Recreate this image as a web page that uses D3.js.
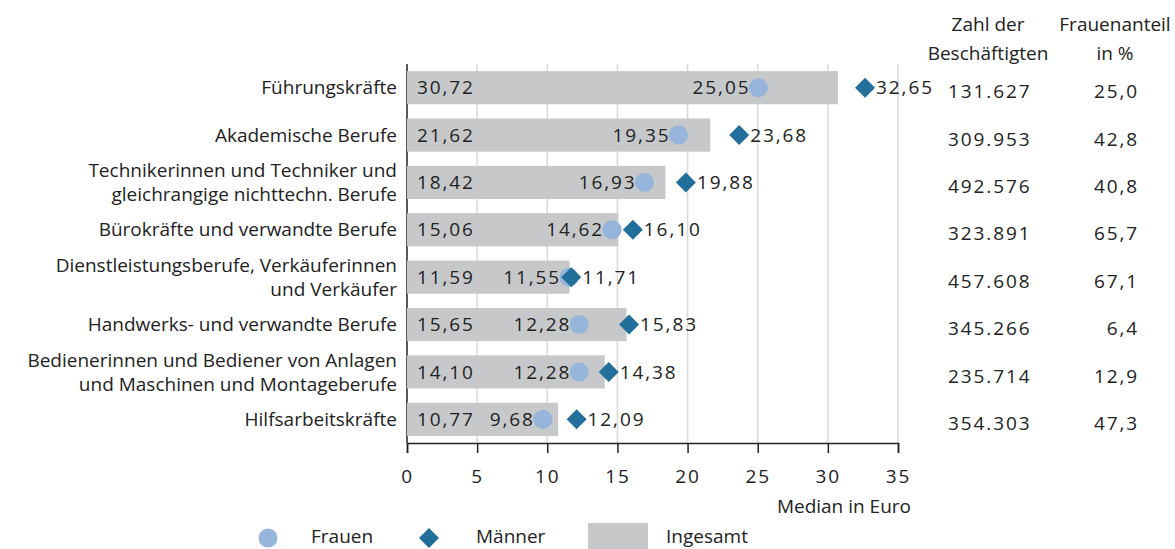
<!DOCTYPE html>
<html>
<head>
<meta charset="utf-8">
<script src="https://cdn.jsdelivr.net/npm/d3@7"></script>
<style>
  body { margin: 0; background: #fff; }
  text { font-family: "Open Sans", "Noto Sans", sans-serif; fill: #222; }
  .num { letter-spacing: 1.9px; }
</style>
</head>
<body>
<script>
const categories = [
  ["Führungskräfte"],
  ["Akademische Berufe"],
  ["Technikerinnen und Techniker und", "gleichrangige nichttechn. Berufe"],
  ["Bürokräfte und verwandte Berufe"],
  ["Dienstleistungsberufe, Verkäuferinnen", "und Verkäufer"],
  ["Handwerks- und verwandte Berufe"],
  ["Bedienerinnen und Bediener von Anlagen", "und Maschinen und Montageberufe"],
  ["Hilfsarbeitskräfte"]
];
const insgesamt = [30.72, 21.62, 18.42, 15.06, 11.59, 15.65, 14.10, 10.77];
const frauen    = [25.05, 19.35, 16.93, 14.62, 11.55, 12.28, 12.28, 9.68];
const maenner   = [32.65, 23.68, 19.88, 16.10, 11.71, 15.83, 14.38, 12.09];
const beschaeftigte = ["131.627", "309.953", "492.576", "323.891", "457.608", "345.266", "235.714", "354.303"];
const frauenanteil  = ["25,0", "42,8", "40,8", "65,7", "67,1", "6,4", "12,9", "47,3"];
const xTicks = [0, 5, 10, 15, 20, 25, 30, 35];

const width  = 1175,
      height = 549,
      fs     = 19,
      grey   = "#c7c8ca",
      blueF  = "#97b5da",
      blueM  = "#236f9c";

const fmt = v => v.toFixed(2).replace(".", ",");
const diamond = "M0,-10L10,0L0,10L-10,0Z";

const svg = d3.select("body").append("svg")
  .attr("width", width)
  .attr("height", height);

const x = d3.scaleLinear().domain([0, 35]).range([407, 898]);
const y = d3.scaleBand().domain(d3.range(categories.length)).range([64, 443])
  .paddingInner(0.3).paddingOuter(0.15);

// gridlines
svg.append("g").selectAll("line").data(xTicks.slice(1)).join("line")
  .attr("x1", d => x(d)).attr("x2", d => x(d))
  .attr("y1", 64).attr("y2", 443)
  .attr("stroke", "#d9d9d9").attr("stroke-width", 1.5);

// left axis line
svg.append("line")
  .attr("x1", x(0)).attr("x2", x(0)).attr("y1", 64).attr("y2", 443)
  .attr("stroke", "#222").attr("stroke-width", 1.5);

// bars
svg.append("g").selectAll("rect").data(insgesamt).join("rect")
  .attr("x", x(0))
  .attr("y", (d, i) => y(i))
  .attr("width", d => x(d) - x(0))
  .attr("height", y.bandwidth())
  .attr("fill", grey);

const cy = i => y(i) + y.bandwidth() / 2;

// insgesamt labels
svg.append("g").selectAll("text").data(insgesamt).join("text")
  .attr("class", "num")
  .attr("x", x(0) + 10).attr("y", (d, i) => cy(i)).attr("dy", "0.35em")
  .attr("font-size", fs).text(fmt);

// frauen markers + labels
svg.append("g").selectAll("circle").data(frauen).join("circle")
  .attr("cx", d => x(d)).attr("cy", (d, i) => cy(i)).attr("r", 9.5)
  .attr("fill", blueF);
svg.append("g").selectAll("text").data(frauen).join("text")
  .attr("class", "num")
  .attr("x", d => x(d) - 8).attr("y", (d, i) => cy(i)).attr("dy", "0.35em")
  .attr("text-anchor", "end").attr("font-size", fs).text(fmt);

// maenner markers + labels
svg.append("g").selectAll("path").data(maenner).join("path")
  .attr("d", diamond)
  .attr("transform", (d, i) => `translate(${x(d)},${cy(i)})`)
  .attr("fill", blueM);
svg.append("g").selectAll("text").data(maenner).join("text")
  .attr("class", "num")
  .attr("x", d => x(d) + 11).attr("y", (d, i) => cy(i)).attr("dy", "0.35em")
  .attr("font-size", fs).text(fmt);

// category labels
const catG = svg.append("g").selectAll("text").data(categories).join("text")
  .attr("text-anchor", "end").attr("font-size", fs)
  .attr("transform", (d, i) => `translate(397,${cy(i)})`);
catG.selectAll("tspan").data(d => d).join("tspan")
  .attr("x", 0)
  .attr("y", (d, j, nodes) => (j - (nodes.length - 1) / 2) * 24)
  .attr("dy", "0.35em")
  .text(d => d);

// x axis
const xAxis = svg.append("g")
  .attr("transform", "translate(0,443)")
  .call(d3.axisBottom(x).tickValues(xTicks).tickSize(10).tickPadding(17).tickFormat(d => d));
xAxis.select(".domain").attr("stroke", "#222").attr("stroke-width", 1.5);
xAxis.selectAll(".tick line").attr("stroke", "#222").attr("stroke-width", 1.5);
xAxis.selectAll("text").attr("class", "num").attr("font-size", fs)
  .attr("font-family", null).attr("fill", "#222");

svg.append("text").attr("x", 911).attr("y", 513).attr("text-anchor", "end")
  .attr("font-size", fs).text("Median in Euro");

// right columns
const colHead = [
  { x: 988, lines: ["Zahl der", "Beschäftigten"] },
  { x: 1115, lines: ["Frauenanteil", "in %"] }
];
colHead.forEach(h => {
  const t = svg.append("text").attr("text-anchor", "middle").attr("font-size", fs);
  h.lines.forEach((l, j) => t.append("tspan").attr("x", h.x).attr("y", 31 + j * 29).text(l));
});
svg.append("g").selectAll("text").data(beschaeftigte).join("text")
  .attr("class", "num")
  .attr("x", 948).attr("y", (d, i) => cy(i) + 4).attr("dy", "0.35em")
  .attr("font-size", fs).text(d => d);
svg.append("g").selectAll("text").data(frauenanteil).join("text")
  .attr("class", "num")
  .attr("x", 1139).attr("y", (d, i) => cy(i) + 4).attr("dy", "0.35em")
  .attr("text-anchor", "end").attr("font-size", fs).text(d => d);

// legend
const leg = svg.append("g");
leg.append("circle").attr("cx", 268).attr("cy", 538).attr("r", 9.5).attr("fill", blueF);
leg.append("text").attr("x", 311).attr("y", 543).attr("font-size", fs).text("Frauen");
leg.append("path").attr("d", diamond).attr("transform", "translate(429,538)").attr("fill", blueM);
leg.append("text").attr("x", 476).attr("y", 543).attr("font-size", fs).text("Männer");
leg.append("rect").attr("x", 588).attr("y", 523).attr("width", 60).attr("height", 30).attr("fill", grey);
leg.append("text").attr("x", 666).attr("y", 543).attr("font-size", fs).text("Ingesamt");
</script>
</body>
</html>
